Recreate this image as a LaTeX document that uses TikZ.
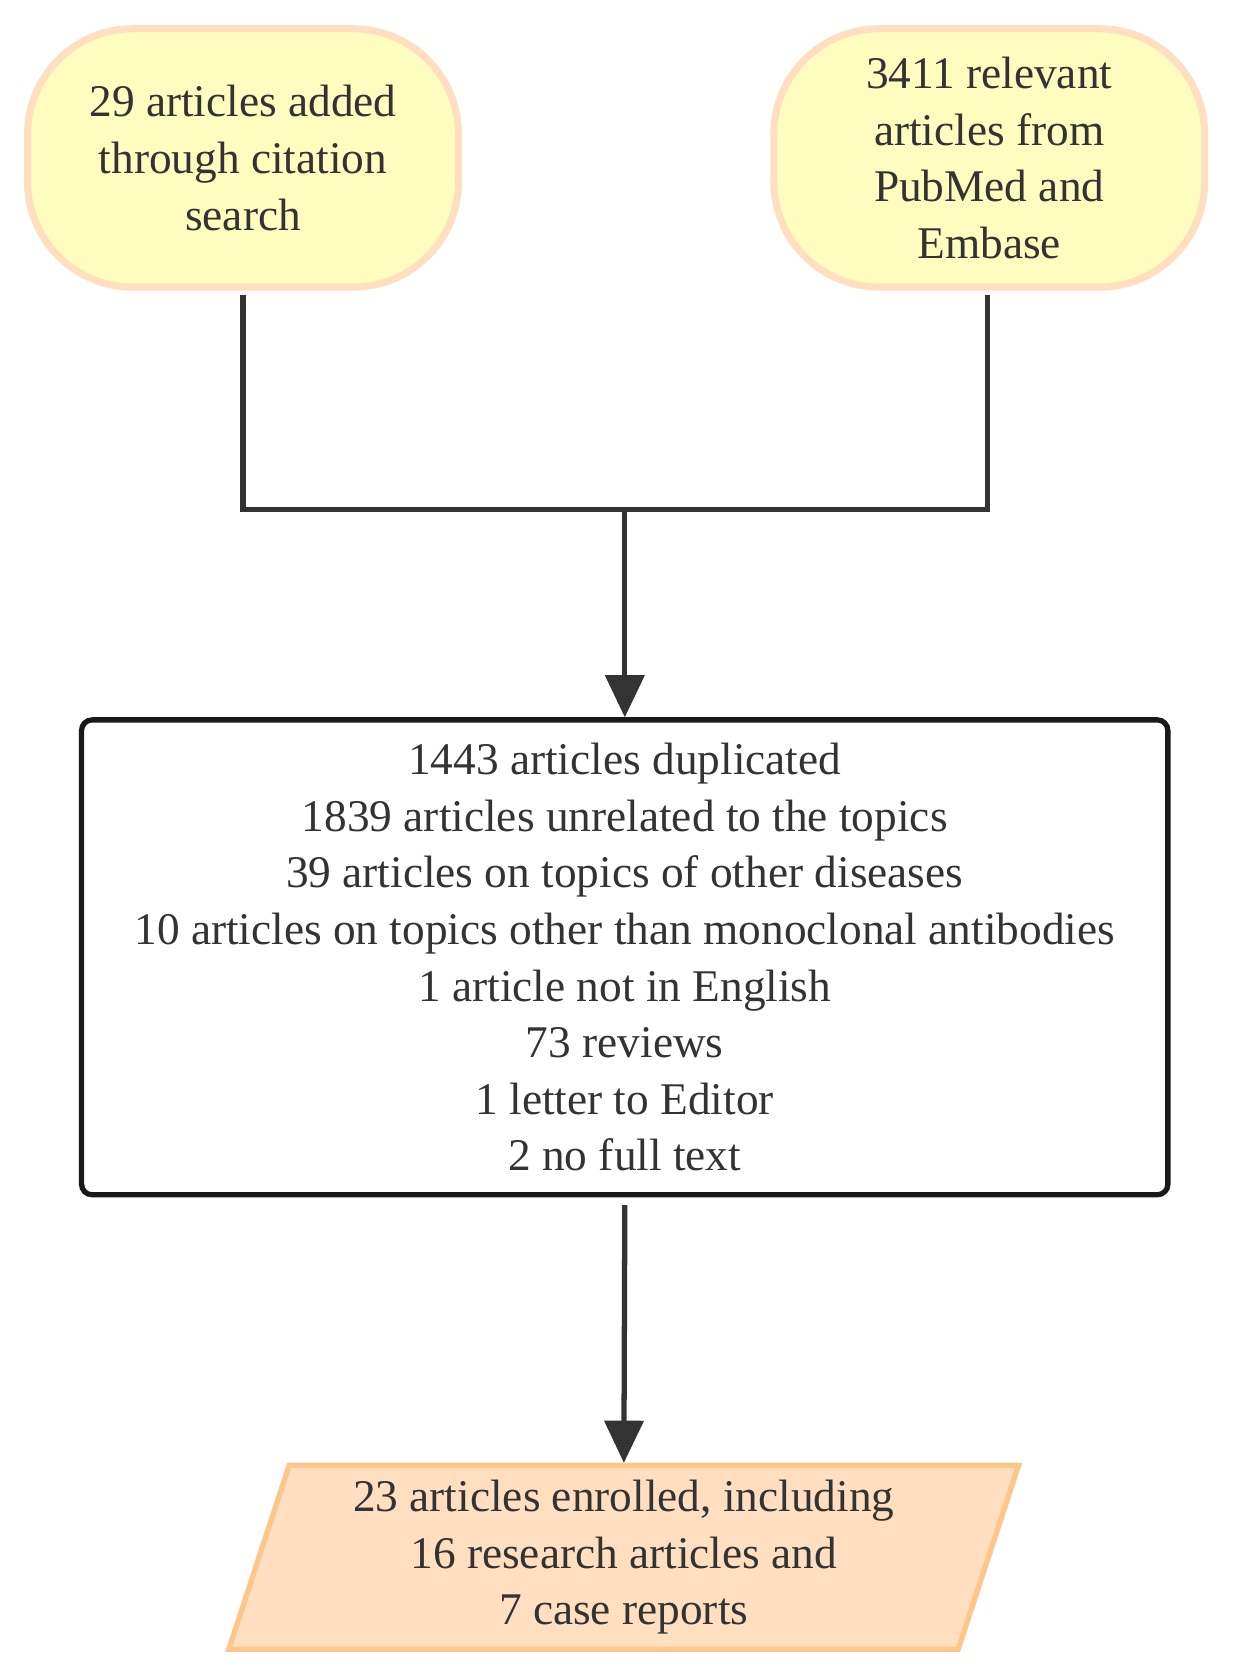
\documentclass[tikz,border=0pt]{standalone}
\usepackage{fontspec}
\setmainfont{Liberation Serif}
\usetikzlibrary{arrows.meta,shapes.geometric}
\begin{document}
\begin{tikzpicture}[x=0.02cm,y=-0.02cm,
  txt/.style={font=\fontsize{25.8}{32.2}\selectfont,align=center,text=black!80},
  stad/.style={draw=orange!25,line width=4pt,fill=yellow!25,rounded corners=60pt,minimum width=8.62cm,minimum height=5.17cm},
  ln/.style={draw=black!80,line width=3pt},
  arr/.style={ln,-{Triangle[length=24pt,width=22pt]}}]
\useasboundingbox (0,0) rectangle (1233,1679);
\begin{scope}[scale=1.0125]
\node[stad,txt] (a) at (240,156) {29 articles added\\through citation\\search};
\node[stad,txt] (b) at (977,156) {3411 relevant\\articles from\\PubMed and\\Embase};
\node[draw=black!90,line width=3pt,rounded corners=6pt,minimum width=21.73cm,minimum height=9.5cm,txt] (c) at (617,945.5) {1443 articles duplicated\\1839 articles unrelated to the topics\\39 articles on topics of other diseases\\10 articles on topics other than monoclonal antibodies\\1 article not in English\\73 reviews\\1 letter to Editor\\2 no full text};
\node[trapezium,trapezium stretches body,trapezium left angle=70,trapezium right angle=110,draw=orange!45,line width=3pt,fill=orange!25,minimum width=15.8cm,minimum height=3.68cm,txt] (d) at (616,1538) {23 articles enrolled, including\\16 research articles and\\7 case reports};
\coordinate (j) at (617,503);
\coordinate (ta) at (240,291);
\coordinate (tb) at (975,291);
\coordinate (cb) at (617,1190);
\draw[ln] (ta) |- (j);
\draw[ln] (tb) |- (j);
\draw[arr] (j) -- (c.north);
\draw[arr] (cb) -- (d.north);
\end{scope}
\end{tikzpicture}
\end{document}
